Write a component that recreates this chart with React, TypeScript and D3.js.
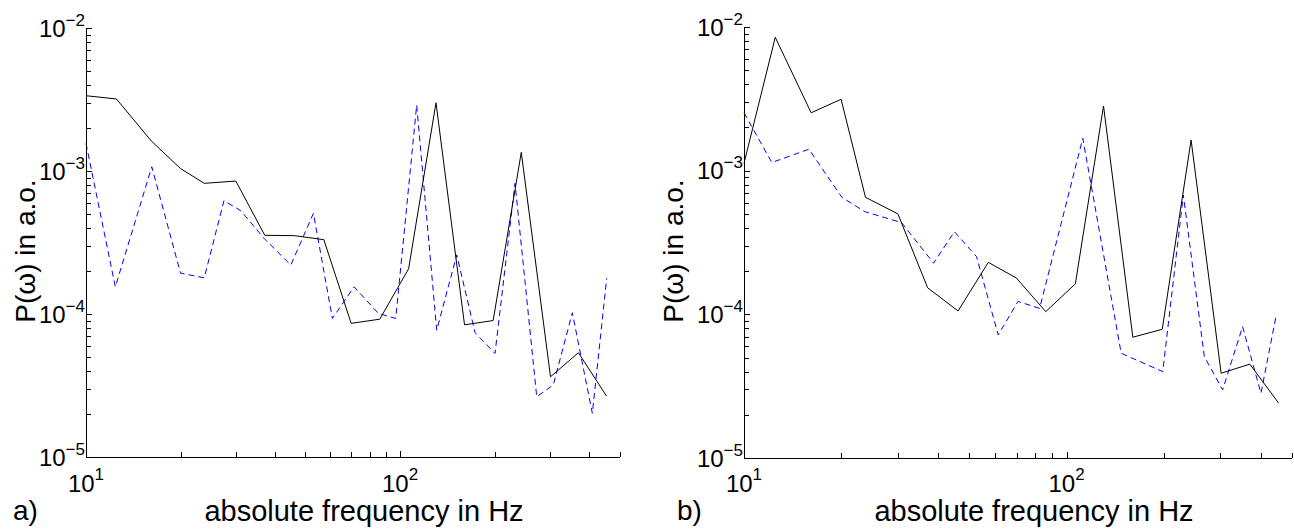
import React from 'react';
import * as d3 from 'd3';

// frequencies (Hz) of the solid curve, same grid in both panels
const freqSolid = [10, 12.5, 16.15, 20, 23.8, 30, 37.1, 46.1, 57.2, 69.9, 86.2, 106.5, 130.2, 160.5, 198, 243.3, 301.5, 370, 454.5];

// panel a)
const solidA = [3.36e-3, 3.19e-3, 1.62e-3, 1.04e-3, 8.2e-4, 8.5e-4, 3.55e-4, 3.53e-4, 3.31e-4, 8.6e-5, 9.2e-5, 2.07e-4, 3.0e-3, 8.4e-5, 9.0e-5, 1.35e-3, 3.64e-5, 5.36e-5, 2.67e-5];
const freqDashedA = [10, 12.4, 16.2, 20, 23.8, 27.5, 31.1, 36.9, 44.9, 53, 60.9, 71.4, 85.3, 96.9, 113, 130.9, 151.6, 173.4, 200.7, 232.4, 272.5, 307.7, 353.8, 409.7, 455.2];
const dashedA = [1.56e-3, 1.55e-4, 1.07e-3, 1.93e-4, 1.79e-4, 6.2e-4, 5.28e-4, 3.38e-4, 2.2e-4, 5.06e-4, 9.3e-5, 1.55e-4, 1.01e-4, 9.3e-5, 2.89e-3, 7.7e-5, 2.59e-4, 7.4e-5, 5.3e-5, 8.2e-4, 2.64e-5, 3.19e-5, 1.02e-4, 2.02e-5, 1.78e-4];

// panel b)
const solidB = [1.126e-3, 8.48e-3, 2.53e-3, 3.14e-3, 6.53e-4, 5.0e-4, 1.53e-4, 1.056e-4, 2.3e-4, 1.79e-4, 1.044e-4, 1.63e-4, 2.82e-3, 6.93e-5, 7.87e-5, 1.635e-3, 3.89e-5, 4.5e-5, 2.41e-5];
const freqDashedB = [10, 12.2, 15.9, 20.1, 23.7, 30.8, 38.7, 44.9, 52.6, 61.4, 70.7, 82.5, 112.3, 147.7, 198.7, 230.2, 267.4, 304.7, 351.4, 400.6, 445.9];
const dashedB = [2.53e-3, 1.14e-3, 1.41e-3, 6.53e-4, 5.18e-4, 4.35e-4, 2.27e-4, 3.76e-4, 2.52e-4, 7.19e-5, 1.23e-4, 1.1e-4, 1.68e-3, 5.36e-5, 3.99e-5, 6.77e-4, 5.08e-5, 2.98e-5, 8.21e-5, 2.82e-5, 9.64e-5];

const xDomain = [10, 500];
const yDomain = [1e-5, 1e-2];
const xTitle = 'absolute frequency in Hz';
const yTitle = 'P(\u03c9) in a.o.';

const FONT = '"Liberation Sans", Arial, Helvetica, sans-serif';

const isMajor = (t: number) => Math.abs(Math.log10(t) - Math.round(Math.log10(t))) < 1e-9;

function Panel({box, solid, freqDashed, dashed, letter}: any) {
  const x = d3.scaleLog().domain(xDomain).range([box.x0, box.x1]);
  const y = d3.scaleLog().domain(yDomain).range([box.y1, box.y0]);
  const line = d3.line<number[]>().x(d => x(d[0])).y(d => y(d[1]));

  const solidPts = freqSolid.map((f, i) => [f, solid[i]]);
  const dashedPts = freqDashed.map((f, i) => [f, dashed[i]]);

  const xt = x.ticks();
  const yt = y.ticks();

  return (
    <g>
      <path d={line(dashedPts) || ''} fill="none" stroke="#0000ff" strokeWidth={1} strokeDasharray="6,4" />
      <path d={line(solidPts) || ''} fill="none" stroke="#000" strokeWidth={1} />

      {/* axes */}
      <g stroke="#000" strokeWidth={1} shapeRendering="crispEdges">
        <line x1={box.x0} x2={box.x0} y1={box.y0} y2={box.y1} />
        <line x1={box.x0} x2={box.x1} y1={box.y1} y2={box.y1} />
        {yt.map((t, i) => (
          <line key={'y' + i} x1={box.x0} x2={box.x0 + (isMajor(t) ? 6 : 5)} y1={Math.round(y(t))} y2={Math.round(y(t))} />
        ))}
        {xt.map((t, i) => (
          <line key={'x' + i} x1={Math.round(x(t))} x2={Math.round(x(t))} y1={box.y1} y2={box.y1 - (isMajor(t) ? 6 : 5)} />
        ))}
      </g>

      <g fontFamily={FONT} fill="#000">
        {yt.filter(isMajor).map((t, i) => (
          <text key={'yl' + i} x={box.x0 - 1} y={y(t) + 8.5} textAnchor="end" fontSize={24}>
            10<tspan fontSize={17} dy={-11}>{'\u2212' + Math.abs(Math.round(Math.log10(t)))}</tspan>
          </text>
        ))}
        {xt.filter(isMajor).map((t, i) => (
          <text key={'xl' + i} x={x(t)} y={492} textAnchor="middle" fontSize={24}>
            10<tspan fontSize={17} dy={-12}>{Math.round(Math.log10(t))}</tspan>
          </text>
        ))}
        <text x={box.titleX} y={521} textAnchor="middle" fontSize={29}>{xTitle}</text>
        <text transform={`translate(${box.yTitleX},251) rotate(-90)`} textAnchor="middle" fontSize={28}>{yTitle}</text>
        <text x={box.letterX} y={520} fontSize={28}>{letter}</text>
      </g>
    </g>
  );
}

export default function App() {
  const boxA = {x0: 86, x1: 619.5, y0: 28, y1: 457, titleX: 364, yTitleX: 35, letterX: 13};
  const boxB = {x0: 744, x1: 1292, y0: 27, y1: 458, titleX: 1034, yTitleX: 683, letterX: 677};
  return (
    <svg width={1294} height={529} style={{position: 'absolute', left: 0, top: 0, background: '#fff'}}>
      <rect width={1294} height={529} fill="#fff" />
      <Panel box={boxA} solid={solidA} freqDashed={freqDashedA} dashed={dashedA} letter="a)" />
      <Panel box={boxB} solid={solidB} freqDashed={freqDashedB} dashed={dashedB} letter="b)" />
    </svg>
  );
}
